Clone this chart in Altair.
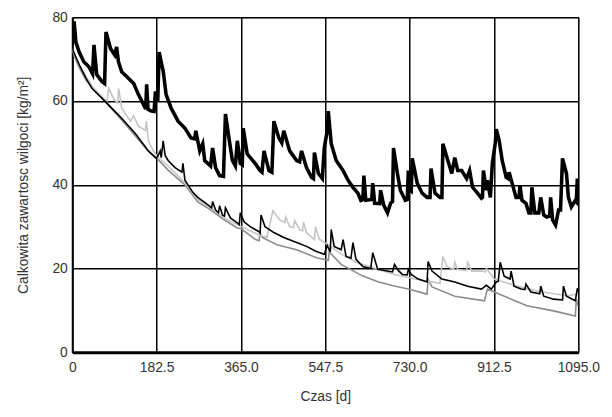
import altair as alt
import pandas as pd

# Thick black series (day, value)
thick_day = [0, 2, 4, 8, 15, 25, 36, 44, 47, 53, 64, 70, 73, 83, 92, 96, 100, 107, 122, 133, 143, 154, 159, 161, 164, 171, 177, 180, 185, 188, 197, 203, 214, 229, 244, 257, 265, 267.3, 271.6, 275.9, 282.3, 286.6, 299.4, 303.7, 310.1, 318.7, 327.2, 331.5, 340, 346.5, 352.9, 357.2, 363.6, 367.9, 370, 378.5, 395.7, 406.4, 410.6, 414.9, 425.6, 432, 436.3, 447, 453.4, 457.7, 470.5, 485.5, 492, 496.2, 506.9, 517.6, 521.9, 524, 532.6, 541.1, 545.4, 551.8, 554, 560.4, 571.1, 586.1, 596.8, 607.4, 618.1, 624.5, 628.8, 631, 635.2, 648, 650.2, 654.4, 665.1, 667.3, 673.7, 682.2, 688.7, 693, 695.1, 703.6, 710, 720.7, 725, 727.2, 731.4, 733.5, 735.7, 746.4, 757.1, 767.8, 774.2, 776.3, 784.9, 795.6, 799.9, 802, 812.7, 821.3, 827.7, 834.1, 842.6, 853.3, 859.8, 866.2, 876.9, 885.4, 887.6, 889.7, 896.1, 898.3, 904.7, 909, 915.4, 917.5, 923.9, 930.3, 938.9, 943.2, 945.3, 951.7, 960.3, 966.7, 968.8, 973.1, 981.7, 988.1, 992.4, 994.5, 1000.9, 1009.5, 1013.7, 1020.2, 1026.6, 1033, 1035.1, 1039.4, 1045.8, 1052.3, 1056.5, 1060.8, 1069.4, 1073.6, 1080, 1088.6, 1090.7, 1092.9, 1095]
thick_val = [73.4, 76, 79, 74, 71.7, 69.4, 68.2, 66.5, 73.4, 66.3, 64.7, 64.2, 76.5, 72.5, 71, 72.9, 69.4, 67, 65.4, 64.2, 61.6, 59.2, 58.1, 64, 58, 57.6, 57.5, 62.3, 60, 71.7, 67, 61.6, 58.3, 55.2, 53.5, 51.2, 51, 52.9, 50.5, 48.1, 49.8, 45.8, 44.5, 48.8, 44.1, 42.2, 42, 56.9, 50.5, 45.8, 44.5, 50.5, 45.1, 44.8, 53.5, 47.4, 45.1, 43.4, 43, 48.1, 43.4, 43, 55.2, 51.2, 50, 52.9, 48.1, 45.8, 45.5, 48.1, 44.1, 41.8, 41.5, 47.7, 42.7, 41.5, 48.8, 53, 57.6, 49.8, 45.8, 43.4, 41.1, 39.4, 38, 36.3, 36.5, 42.2, 36.3, 36.5, 40.4, 35.6, 35.5, 38.7, 35.2, 33.3, 35.6, 36, 48.8, 42.7, 38.7, 36.3, 36.5, 43.4, 38.7, 38.5, 46.3, 40.4, 38, 37, 37, 43.9, 38, 37, 37, 49.8, 45.8, 42.7, 46.5, 43.4, 43.4, 41.5, 43.4, 39.4, 38, 36.8, 37, 43.4, 38.7, 41.1, 37, 45.1, 50, 53.3, 50.5, 45.8, 41.8, 41.5, 43, 40.4, 37, 37, 39.9, 36.3, 35.6, 33.3, 33.3, 39.4, 33.3, 33.3, 37, 32.8, 32.3, 32.5, 37, 31.6, 30.4, 34, 34, 46.3, 42.7, 37, 34.7, 36.3, 36, 41.5, 36]

# Thin black series
thin_day = [0, 15, 29.9, 42.8, 64.2, 85.5, 106.9, 136.9, 164.7, 181.8, 186, 190.3, 192.5, 196.8, 201, 207.5, 222.4, 237.4, 239.5, 243.8, 260.9, 271.6, 288.7, 301.6, 303.7, 310.1, 316.5, 318.7, 325.1, 329.4, 331.5, 342.2, 357.2, 361.5, 363.6, 372.2, 385, 404.2, 406.4, 408.5, 417.1, 436.3, 457.7, 485.5, 506.9, 528.3, 545.4, 551.8, 556, 558.2, 560.4, 566.8, 581.8, 586.1, 592.4, 603.1, 607.4, 613.9, 628.8, 645.9, 650.2, 660.9, 682.2, 693, 697.2, 705.8, 714.3, 725, 727.2, 733.5, 748.5, 767.8, 770, 778.5, 799.9, 827.7, 855.5, 885.4, 896.1, 906.8, 917.5, 921.8, 926.1, 934.6, 947.4, 949.6, 956, 971, 979.5, 981.7, 992.4, 1011.6, 1013.7, 1020.2, 1041.6, 1060.8, 1062.9, 1069.4, 1088.6, 1092.9, 1095]
thin_val = [72.5, 68.7, 65.4, 63, 60.7, 58.3, 55.9, 52.2, 48.1, 46.3, 47, 48.1, 46.5, 50.5, 47, 45.8, 44.1, 43, 45.1, 41.1, 38.2, 37, 35.6, 34.5, 36, 34, 33.3, 35, 32.8, 32.5, 34.5, 32.1, 30.9, 30.5, 33.3, 31.1, 30, 28.8, 28.5, 32.8, 30, 28.6, 27.4, 26.2, 25.3, 24.1, 23.4, 25.5, 24.5, 24, 29.3, 25.3, 24.5, 26.9, 22.9, 22.5, 26.2, 22.2, 20.5, 20, 23.8, 19.8, 19.4, 19.2, 21, 19.5, 18.6, 18.5, 19.8, 18.6, 17.5, 16.8, 21.7, 19.4, 17.5, 16.8, 15.8, 15.1, 16, 15.1, 16.8, 17, 21.5, 18.2, 17.5, 19.4, 15.8, 15.1, 15, 16.3, 14.4, 14, 15.8, 13.4, 12.7, 12.5, 15.8, 13.4, 12.3, 15.3, 14.5]

# Medium gray series
gray_day = [0, 15, 29.9, 57.7, 106.9, 164.7, 186, 207.5, 243.8, 271.6, 299.4, 329.4, 357.2, 365.7, 395.7, 404.2, 406.4, 410.6, 442.7, 485.5, 528.3, 554, 556, 581.8, 628.8, 663, 699.3, 727.2, 767.8, 770, 778.5, 827.7, 891.8, 898.3, 913.2, 983.8, 1041.6, 1088.6, 1090.7, 1095]
gray_val = [72, 68, 65, 61.5, 55.5, 48, 46, 43.5, 40, 35.9, 34, 31.6, 29.7, 29.5, 27, 26.6, 28.5, 27.5, 25.7, 24.5, 22.6, 22, 24, 21, 18.2, 16.8, 15.8, 15.1, 13.9, 17.5, 15.6, 13.4, 12.3, 15.1, 14.4, 11.1, 9.9, 8.7, 12.7, 11]

# Light gray series
light_day = [0, 15, 42.8, 64.2, 74.9, 79.1, 89.8, 98.4, 100.5, 106.9, 126.2, 132.6, 143.3, 158.3, 160.4, 164.7, 175.4, 186, 207.5, 243.8, 271.6, 299.4, 329.4, 357.2, 385, 404.2, 421.3, 434.2, 449.1, 459.8, 462, 470.5, 479, 481.2, 491.9, 498.3, 500.4, 506.9, 524, 526.2, 534.7, 556, 581.8, 613.9, 656.6, 699.3, 742.1, 795.6, 802, 810.6, 825.6, 827.7, 834.1, 853.3, 855.5, 864.1, 885.4, 894, 896.1, 913.2, 956, 998.8, 1041.6, 1073.6, 1095]
light_val = [72.5, 68.5, 63.5, 61, 60, 63, 60.5, 59.5, 63, 58.3, 55.2, 56.5, 54, 53, 55.2, 50.5, 48.1, 46.5, 44.5, 40.5, 36.5, 34.5, 32, 30.5, 29, 28, 27.5, 33.8, 31.6, 31, 32.3, 30, 29.8, 31.5, 29.3, 29, 31.1, 28.6, 26.9, 30, 27, 25.5, 23.5, 21.5, 20, 18.5, 17.5, 16.5, 22.9, 20.5, 19.8, 21.5, 19.8, 19.5, 21.7, 19.4, 19.4, 19.2, 20, 17.5, 16, 14.8, 14, 13.5, 14]

x_ticks = [0, 182.5, 365, 547.5, 730, 912.5, 1095]
y_ticks = [0, 20, 40, 60, 80]

def frame(days, vals, name):
    return pd.DataFrame({"day": days, "val": vals, "series": name})

FONT = "Liberation Sans"

xs = alt.X("day:Q", scale=alt.Scale(domain=[0, 1095], nice=False, zero=False),
           axis=alt.Axis(values=x_ticks, title="Czas [d]",
                         labelExpr="datum.value == 0 ? '0' : format(datum.value, '.1f')",
                         grid=True, gridColor="#000", gridWidth=1.5, gridOpacity=1,
                         domainColor="#000", domainWidth=3, ticks=False,
                         labelPadding=8, titlePadding=16, labelFlush=False))
ys = alt.Y("val:Q", scale=alt.Scale(domain=[0, 80], nice=False),
           axis=alt.Axis(values=y_ticks, title="Calkowita zawartosc wilgoci [kg/m²]",
                         grid=True, gridColor="#000", gridWidth=1.5, gridOpacity=1,
                         domainColor="#000", domainWidth=2, ticks=False,
                         labelPadding=5, titlePadding=22))

def line(df, color, width):
    return alt.Chart(df).mark_line(color=color, strokeWidth=width, interpolate="linear",
                                   strokeJoin="miter", clip=True).encode(x=xs, y=ys, order="day:Q")

chart = alt.layer(
    line(frame(gray_day, gray_val, "gray"), "#8c8c8c", 1.6),
    line(frame(light_day, light_val, "light"), "#c4c4c4", 1.6),
    line(frame(thin_day, thin_val, "thin"), "#000000", 1.6),
    line(frame(thick_day, thick_val, "thick"), "#000000", 3.6),
).properties(
    width=512, height=339,
    background="white",
    autosize=alt.AutoSizeParams(type="none"),
    padding={"left": 65, "top": 7, "right": 26, "bottom": 60},
).configure_view(stroke="#888", strokeWidth=1).configure_axis(
    labelFont=FONT, titleFont=FONT, labelFontSize=14, titleFontSize=14,
    labelColor="#333", titleColor="#333", titleFontWeight="normal",
)

chart.save("out.html", embed_options={"renderer": "svg", "actions": False})
